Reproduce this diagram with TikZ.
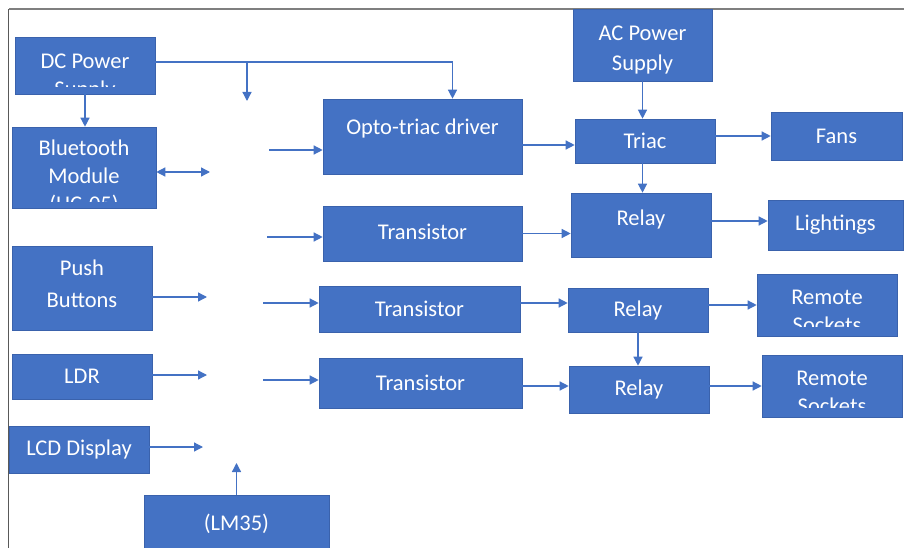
\documentclass[tikz,border=0pt]{standalone}
\usepackage{fontspec}
\setmainfont{Carlito}
\usetikzlibrary{arrows.meta,positioning,calc}
\definecolor{blockblue}{HTML}{4472C4}
\definecolor{blockedge}{HTML}{3A62AC}
\definecolor{frameline}{HTML}{7F7F7F}

\begin{document}
\begin{tikzpicture}[x=1pt,y=-1pt,
  block/.style={draw=blockedge,line width=0.6pt,fill=blockblue,text=white,
    font=\fontsize{22.5}{28}\selectfont,align=center,inner sep=0pt},
  lbl/.style={text=white,font=\fontsize{22.5}{28}\selectfont,align=center,inner sep=0pt},
  cliptext/.style n args={3}{path picture={
    \clip (path picture bounding box.north west)
      rectangle ([yshift=#3]path picture bounding box.south east);
    \node[lbl] at ([yshift=#2]path picture bounding box.center) {#1};}},
  arrow/.style={-{Triangle[length=9pt,width=9pt]},line width=1.3pt,draw=blockblue},
  biarrow/.style={arrow,{Triangle[length=9pt,width=9pt]}-{Triangle[length=9pt,width=9pt]}}
]
\useasboundingbox (0,0) rectangle (904,548);
\draw[frameline,line width=1.8pt] (904,9) -- (8.5,9);
\draw[frameline!70!black,line width=1pt] (8.5,9) -- (8.5,548);

\node[block,minimum width=140pt,minimum height=57pt,cliptext={DC Power\\Supply}{-11.5pt}{7pt}] (dc) at (85,65.5) {};
\node[block,minimum width=144pt,minimum height=81pt,cliptext={Bluetooth\\Module\\(HC-05)}{-9.5pt}{7pt}] (bt) at (84,167.5) {};
\node[block,minimum width=140pt,minimum height=84pt,cliptext={Push\\[4pt]Buttons}{4pt}{0pt}] (push) at (82,288) {};
\node[block,minimum width=140pt,minimum height=45pt] (ldr) at (82,376.5) {LDR};
\node[block,minimum width=140pt,minimum height=47pt] (lcd) at (79,449.5) {LCD Display};
\node[block,minimum width=185pt,minimum height=57pt] (lm35) at (236.5,523.5) {(LM35)};

\node[block,minimum width=199pt,minimum height=75pt,cliptext={Opto-triac driver}{7.5pt}{0pt}] (opto) at (422.5,136.5) {};
\node[block,minimum width=199pt,minimum height=55pt,cliptext={Transistor}{2pt}{0pt}] (tr1) at (422.5,233.5) {};
\node[block,minimum width=201pt,minimum height=46pt] (tr2) at (419.5,309) {Transistor};
\node[block,minimum width=203pt,minimum height=50pt] (tr3) at (420.5,383) {Transistor};

\node[block,minimum width=139pt,minimum height=72pt,cliptext={AC Power\\[2pt]Supply}{-5pt}{0pt}] (ac) at (642.5,45) {};
\node[block,minimum width=140pt,minimum height=44pt] (triac) at (645,141) {Triac};
\node[block,minimum width=131pt,minimum height=48pt] (fans) at (836.5,136) {Fans};
\node[block,minimum width=140pt,minimum height=64pt,cliptext={Relay}{5pt}{0pt}] (relay1) at (641,225) {};
\node[block,minimum width=135pt,minimum height=50pt] (lights) at (835.5,225) {Lightings};
\node[block,minimum width=140pt,minimum height=44pt] (relay2) at (638,310) {Relay};
\node[block,minimum width=140pt,minimum height=62pt,cliptext={Remote\\Sockets}{-6pt}{10pt}] (sock1) at (827,305) {};
\node[block,minimum width=140pt,minimum height=47pt] (relay3) at (639,389.5) {Relay};
\node[block,minimum width=140pt,minimum height=62pt,cliptext={Remote\\Sockets}{-6pt}{10pt}] (sock2) at (832,386) {};

\coordinate (split) at (247,62);
\coordinate (mcu-top) at (247,101);
\coordinate (bt-end) at (210,172);
\coordinate (opto-src) at (269,150);
\coordinate (tr1-src) at (267,237);
\coordinate (push-end) at (207,297);
\coordinate (tr2-src) at (263,303);
\coordinate (ldr-end) at (207,375);
\coordinate (tr3-src) at (263,380);
\coordinate (lcd-end) at (203,447);
\coordinate (lm35-end) at (236.5,463);

\draw[arrow] (dc.south) -- (dc.south |- bt.north);
\draw[arrow] (dc.east |- split) -| ([xshift=30pt]opto.north);
\draw[arrow] (split) -- (mcu-top);
\draw[biarrow] (bt.east |- bt-end) -- (bt-end);
\draw[arrow] (opto-src) -- (opto.west |- opto-src);
\draw[arrow] (opto.east |- 0,145) -- (triac.west |- 0,145);
\draw[arrow] (ac.south) -- (ac.south |- triac.north);
\draw[arrow] (triac.east |- fans.west) -- (fans.west);
\draw[arrow] (triac.south -| ac.south) -- (ac.south |- relay1.north);
\draw[arrow] (tr1-src) -- (tr1.west |- tr1-src);
\draw[arrow] (tr1.east) -- (relay1.west |- tr1.east);
\draw[arrow] (relay1.east |- 0,221) -- (lights.west |- 0,221);
\draw[arrow] (push.east |- push-end) -- (push-end);
\draw[arrow] (tr2-src) -- (tr2.west |- tr2-src);
\draw[arrow] (tr2.east |- 0,303) -- (relay2.west |- 0,303);
\draw[arrow] (relay2.east |- sock1.west) -- (sock1.west);
\draw[arrow] (relay2.south) -- (relay2.south |- relay3.north);
\draw[arrow] (ldr.east |- ldr-end) -- (ldr-end);
\draw[arrow] (tr3-src) -- (tr3.west |- tr3-src);
\draw[arrow] (tr3.east |- 0,386) -- (relay3.west |- 0,386);
\draw[arrow] (relay3.east |- sock2.west) -- (sock2.west);
\draw[arrow] (lcd.east |- lcd-end) -- (lcd-end);
\draw[arrow] (lm35.north) -- (lm35-end);
\end{tikzpicture}
\end{document}
